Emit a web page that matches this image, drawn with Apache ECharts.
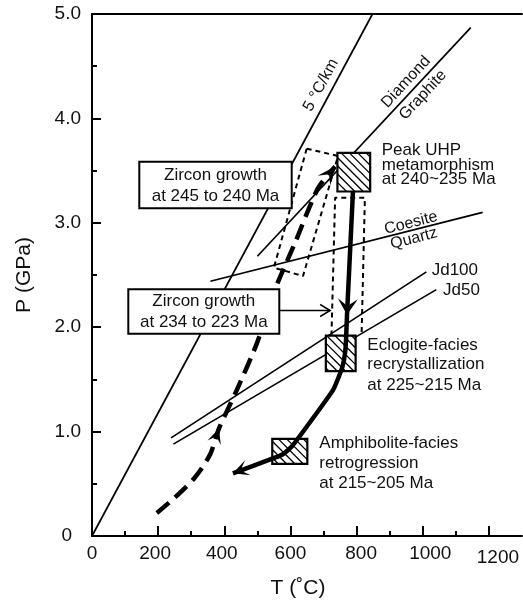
<!DOCTYPE html>
<html>
<head>
<meta charset="utf-8">
<script src="https://cdn.jsdelivr.net/npm/echarts@6/dist/echarts.min.js"></script>
<style>
  html, body { margin: 0; padding: 0; background: #fff; }
  #chart { width: 523px; height: 603px; }
</style>
</head>
<body>
<div id="chart"></div>
<script>
// axis ticks (T in degC)
const tMajor = [0, 200, 400, 600, 800, 1000, 1200]
const tMinor = [100, 300, 500, 700, 900, 1100]

// reference lines, [T, P] end points
const geotherm5 = [[0, 0], [848, 5.0]]
const diamondGraphite = [[500, 2.68], [1145, 4.87]]
const coesiteQuartz = [[358, 2.44], [1181, 3.10]]
const jd100 = [[239, 0.94], [1011, 2.53]]
const jd50 = [[246, 0.88], [1041, 2.36]]

// P-T paths
const progradePath = [[196, 0.22], [251, 0.37], [311, 0.56], [357, 0.78], [384, 1.03], [438, 1.40],
  [499, 1.85], [553, 2.36], [614, 2.81], [683, 3.33], [735, 3.54]]
const retroPath = [[789, 3.30], [771, 2.12], [768, 1.88], [765, 1.75], [756, 1.61], [729, 1.40],
  [605, 0.86], [580, 0.79], [553, 0.75], [426, 0.60]]
const zirconPointer = [[566, 2.16], [720, 2.16]]

// dashed zircon envelopes
const envelopeEarly = [[649, 3.71], [744, 3.64], [638, 2.49], [550, 2.57], [649, 3.71]]
const envelopeLate = [[724, 1.92], [735, 3.24], [825, 3.24], [815, 1.92]]

// hatched boxes [Tmin, Tmax, Pmin, Pmax]
const peakBox = [742, 841, 3.30, 3.67]
const eclogiteBox = [707, 797, 1.58, 1.92]
const amphBox = [545, 651, 0.69, 0.93]

const FONT = '"Liberation Sans", Arial, Helvetica, sans-serif'
const INK = '#111'

const arrowSpecs = [
  { path: retroPath, at: 1, len: 16, half: 10, notch: 0.55 },
  { path: retroPath, at: retroPath.length - 1, len: 16, half: 8, notch: 0.5 },
  { path: progradePath, at: 4, len: 15, half: 7, notch: 0.55 },
  { path: progradePath, at: progradePath.length - 1, len: 18, half: 8, notch: 0.55 },
  { path: zirconPointer, at: 1, len: 10, half: 6, open: true }
]
const arrowData = arrowSpecs.map(a => [a.path[a.at][0], a.path[a.at][1], a.path[a.at - 1][0], a.path[a.at - 1][1]])

const xShift = {
  200: [0, 6, 0, 0], 400: [0, 5, 0, 0], 800: [0, 0, 0, 9],
  1000: [0, 0, 0, 15], 1200: [4, 0, 0, 18]
}
const xRich = {}
Object.keys(xShift).forEach(k => { xRich['s' + k] = { padding: xShift[k] } })

const plainLine = (data, width, extra) => Object.assign({
  type: 'line', data: data, symbol: 'none', silent: true, z: 2,
  lineStyle: { color: '#000', width: width }
}, extra || {})

const notes = [
  { text: '5 °C/km', x: 321, y: 85, rot: 61.7, size: 16, align: 'center' },
  { text: 'Diamond', x: 406, y: 82, rot: 47, size: 16, align: 'center' },
  { text: 'Graphite', x: 423, y: 95, rot: 47, size: 16, align: 'center' },
  { text: 'Coesite', x: 411, y: 223, rot: 14.4, size: 16, align: 'center' },
  { text: 'Quartz', x: 414, y: 238.5, rot: 14.4, size: 16, align: 'center' },
  { text: 'Jd100', x: 431.7, y: 270, size: 17, align: 'left' },
  { text: 'Jd50', x: 443, y: 290, size: 17, align: 'left' },
  { text: 'Peak UHP', x: 381.7, y: 150.3, size: 17, align: 'left' },
  { text: 'metamorphism', x: 381.7, y: 165, size: 17, align: 'left' },
  { text: 'at 240~235 Ma', x: 381.7, y: 179.5, size: 17, align: 'left' },
  { text: 'Eclogite-facies', x: 367.3, y: 345.3, size: 17, align: 'left' },
  { text: 'recrystallization', x: 367.3, y: 364.7, size: 17, align: 'left' },
  { text: 'at 225~215 Ma', x: 367.3, y: 385.3, size: 17, align: 'left' },
  { text: 'Amphibolite-facies', x: 319.3, y: 443.3, size: 17, align: 'left' },
  { text: 'retrogression', x: 319.3, y: 463.3, size: 17, align: 'left' },
  { text: 'at 215~205 Ma', x: 319.3, y: 483, size: 17, align: 'left' },
  { text: 'Zircon growth', x: 215.5, y: 175.5, size: 17, align: 'center', z: 102 },
  { text: 'at 245 to 240 Ma', x: 215.5, y: 196.3, size: 17, align: 'center', z: 102 },
  { text: 'Zircon growth', x: 203.8, y: 301.5, size: 17, align: 'center', z: 102 },
  { text: 'at 234 to 223 Ma', x: 203.8, y: 322.7, size: 17, align: 'center', z: 102 }
]

const graphicEls = [
  { type: 'rect', z: 101, shape: { x: 139.3, y: 161.7, width: 152.4, height: 46.6 },
    style: { fill: '#fff', stroke: '#000', lineWidth: 2 } },
  { type: 'rect', z: 101, shape: { x: 128.3, y: 289.3, width: 151, height: 44.5 },
    style: { fill: '#fff', stroke: '#000', lineWidth: 2 } }
].concat(notes.map(n => ({
  type: 'text', z: n.z || 100, x: n.x, y: n.y, rotation: (n.rot || 0) * Math.PI / 180,
  style: {
    text: n.text, fontSize: n.size, fontFamily: FONT, fill: INK,
    align: n.align, textAlign: n.align, verticalAlign: 'middle', textVerticalAlign: 'middle'
  }
})))

const chart = echarts.init(document.getElementById('chart'))
chart.setOption({
  animation: false,
  backgroundColor: '#fff',
  grid: { left: 92, right: 1, top: 14, bottom: 67, containLabel: false, outerBoundsMode: 'none' },
  xAxis: [
    {
      type: 'value', min: 0, max: 1300, position: 'bottom',
      name: 'T (˚C)', nameLocation: 'middle', nameGap: 42,
      nameTextStyle: { fontSize: 21, fontFamily: FONT, color: INK, padding: [0, 18, 0, 0] },
      axisLine: { lineStyle: { color: '#000', width: 2 } },
      axisTick: { inside: true, length: 10, customValues: tMajor, lineStyle: { color: '#000', width: 2 } },
      axisLabel: {
        customValues: tMajor, margin: 8, fontSize: 19, fontFamily: FONT, color: INK,
        formatter: v => xShift[v] ? '{s' + v + '|' + v + '}' : String(v),
        rich: xRich
      },
      splitLine: { show: false }
    },
    {
      type: 'value', min: 0, max: 1300, position: 'top',
      axisLine: { show: true, lineStyle: { color: '#000', width: 2 } },
      axisTick: { show: false }, axisLabel: { show: false }, splitLine: { show: false }
    },
    {
      type: 'value', min: 0, max: 1300, position: 'bottom',
      axisLine: { show: false },
      axisTick: { inside: true, length: 5, customValues: tMinor, lineStyle: { color: '#000', width: 2 } },
      axisLabel: { show: false }, splitLine: { show: false }
    }
  ],
  yAxis: {
    type: 'value', min: 0, max: 5, interval: 1,
    name: 'P (GPa)', nameLocation: 'middle', nameGap: 57,
    nameTextStyle: { fontSize: 21, fontFamily: FONT, color: INK },
    axisLine: { show: true, lineStyle: { color: '#000', width: 2 } },
    axisTick: { show: true, inside: true, length: 9, lineStyle: { color: '#000', width: 2 } },
    minorTick: { show: true, splitNumber: 2, length: 5, lineStyle: { color: '#000', width: 2 } },
    axisLabel: {
      margin: 11, fontSize: 19, fontFamily: FONT, color: INK,
      formatter: v => v === 0 ? '{z|0}' : v.toFixed(1),
      rich: { z: { padding: [0, 9, 0, 0] } }
    },
    splitLine: { show: false }, minorSplitLine: { show: false }
  },
  graphic: { elements: graphicEls },
  series: [
    plainLine(geotherm5, 1.7),
    plainLine(diamondGraphite, 1.7),
    plainLine(coesiteQuartz, 1.7),
    plainLine(jd100, 1.7),
    plainLine(jd50, 1.7),
    plainLine(envelopeEarly, 2, { lineStyle: { color: '#000', width: 2, type: [5, 4] } }),
    plainLine(envelopeLate, 2, { lineStyle: { color: '#000', width: 2, type: [5, 4] } }),
    plainLine(zirconPointer, 1.5),
    {
      type: 'custom', silent: true, z: 3,
      data: [peakBox, eclogiteBox, amphBox],
      renderItem: (params, api) => {
        const p0 = api.coord([api.value(0), api.value(3)])
        const p1 = api.coord([api.value(1), api.value(2)])
        const x0 = p0[0], y0 = p0[1], x1 = p1[0], y1 = p1[1]
        const gap = 8.3
        const kids = [{ type: 'rect', shape: { x: x0, y: y0, width: x1 - x0, height: y1 - y0 }, style: { fill: '#fff' } }]
        for (let c = y0 - x1 + gap / 2; c < y1 - x0; c += gap) {
          const xa = Math.max(x0, y0 - c), xb = Math.min(x1, y1 - c)
          if (xb > xa) kids.push({ type: 'line', shape: { x1: xa, y1: xa + c, x2: xb, y2: xb + c }, style: { stroke: '#000', lineWidth: 1.3 } })
        }
        kids.push({ type: 'rect', shape: { x: x0, y: y0, width: x1 - x0, height: y1 - y0 }, style: { fill: 'none', stroke: '#000', lineWidth: 2.2 } })
        return { type: 'group', children: kids }
      }
    },
    plainLine(progradePath, 4.5, { z: 4, smooth: 0.25, lineStyle: { color: '#000', width: 4.5, type: [16, 8] } }),
    plainLine(retroPath, 4.5, { z: 4, smooth: 0.15, lineStyle: { color: '#000', width: 4.5, join: 'round' } }),
    {
      type: 'custom', silent: true, z: 5,
      data: arrowData,
      renderItem: (params, api) => {
        const s = arrowSpecs[params.dataIndex]
        const tip = api.coord([api.value(0), api.value(1)])
        const back = api.coord([api.value(2), api.value(3)])
        let dx = tip[0] - back[0], dy = tip[1] - back[1]
        const d = Math.hypot(dx, dy)
        dx /= d; dy /= d
        const nx = -dy, ny = dx
        const bx = tip[0] - dx * s.len, by = tip[1] - dy * s.len
        const left = [bx + nx * s.half, by + ny * s.half]
        const right = [bx - nx * s.half, by - ny * s.half]
        if (s.open) {
          return { type: 'polyline', shape: { points: [left, tip, right] }, style: { stroke: '#000', lineWidth: 1.5, fill: null } }
        }
        const notch = [tip[0] - dx * s.len * s.notch, tip[1] - dy * s.len * s.notch]
        return { type: 'polygon', shape: { points: [tip, left, notch, right] }, style: { fill: '#000' } }
      }
    }
  ]
})
</script>
</body>
</html>
